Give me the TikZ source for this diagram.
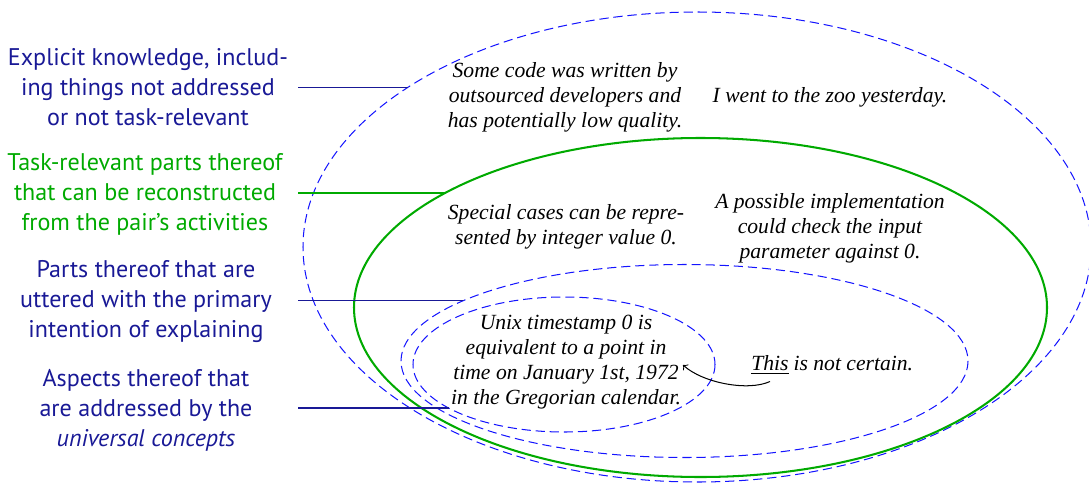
\documentclass[tikz,border=0pt]{standalone}
\usepackage{fontspec}
\newfontfamily\labelfont{PT Sans}
\newfontfamily\notefont{Liberation Serif}
\definecolor{labelblue}{RGB}{25,25,150}
\definecolor{setgreen}{RGB}{0,170,0}
\definecolor{setblue}{RGB}{20,20,255}
\begin{document}
\begin{tikzpicture}[x=0.49pt,y=-0.49pt,
  lbl/.style={align=center,font=\labelfont\fontsize{11.8}{14.7}\selectfont},
  note/.style={align=center,font=\notefont\itshape\fontsize{10.6}{12.3}\selectfont},
  setline/.style={setblue,line width=0.5pt,dash pattern=on 4.5pt off 2.4pt},
  setsolid/.style={setgreen,line width=1pt},
  leader/.style={labelblue,line width=0.5pt},
  greenleader/.style={setgreen,line width=0.8pt},
]
\useasboundingbox (0,0) rectangle (1089,482);

% nested sets of knowledge
\draw[setline]  (697,247)   ellipse [x radius=394,   y radius=235];
\draw[setsolid] (700.5,307.5) ellipse [x radius=346.5, y radius=169.5];
\draw[setline]  (684.5,361) ellipse [x radius=283.5, y radius=96.5];
\draw[setline]  (564,364.5) ellipse [x radius=151,   y radius=67.5];

% labels
\node[lbl,text=labelblue] (expl) at (148,87) {Explicit knowledge, includ-\\ing things not addressed\\or not task-relevant};
\node[lbl,text=setgreen] (recon) at (145,194) {Task-relevant parts thereof\\that can be reconstructed\\from the pair’s activities};
\node[lbl,text=labelblue] (utter) at (146,302) {Parts thereof that are\\uttered with the primary\\intention of explaining};
\node[lbl,text=labelblue] (aspect) at (146,410) {Aspects thereof that\\are addressed by the\\\textit{universal concepts}};

% leader lines from the labels to their sets
\coordinate (expl-a) at (298,87.3);
\coordinate (expl-b) at (408,87.3);
\coordinate (recon-a) at (298,192.7);
\coordinate (recon-b) at (446,192.7);
\coordinate (utter-a) at (298,300.7);
\coordinate (utter-b) at (463,300.7);
\coordinate (aspect-a) at (298,408);
\coordinate (aspect-b) at (448.5,408);
\draw[leader] (expl-a) -- (expl-b);
\draw[greenleader] (recon-a) -- (recon-b);
\draw[leader] (utter-a) -- (utter-b);
\draw[leader] (aspect-a) -- (aspect-b);

% statements
\node[note] (code) at (565,97) {Some code was written by\\outsourced developers and\\has potentially low quality.};
\node[note] (zoo) at (830,97) {I went to the zoo yesterday.};
\node[note] (special) at (566,227) {Special cases can be repre-\\sented by integer value 0.};
\node[note] (impl) at (830,228) {A possible implementation\\could check the input\\parameter against 0.};
\node[note] (unix) at (566,362) {Unix timestamp 0 is\\equivalent to a point in\\time on January 1st, 1972\\in the Gregorian calendar.};
\node[note,anchor=base,inner xsep=1pt] (this) at (770,370) {\underline{This}};
\node[note,anchor=base west,inner xsep=1pt] (rest) at (this.base east) {is not certain.};
\coordinate (tip) at (683,365);
\draw[->,line width=0.5pt] (this.south) .. controls +(-22,10) and +(20,18) .. (tip);
\end{tikzpicture}
\end{document}
